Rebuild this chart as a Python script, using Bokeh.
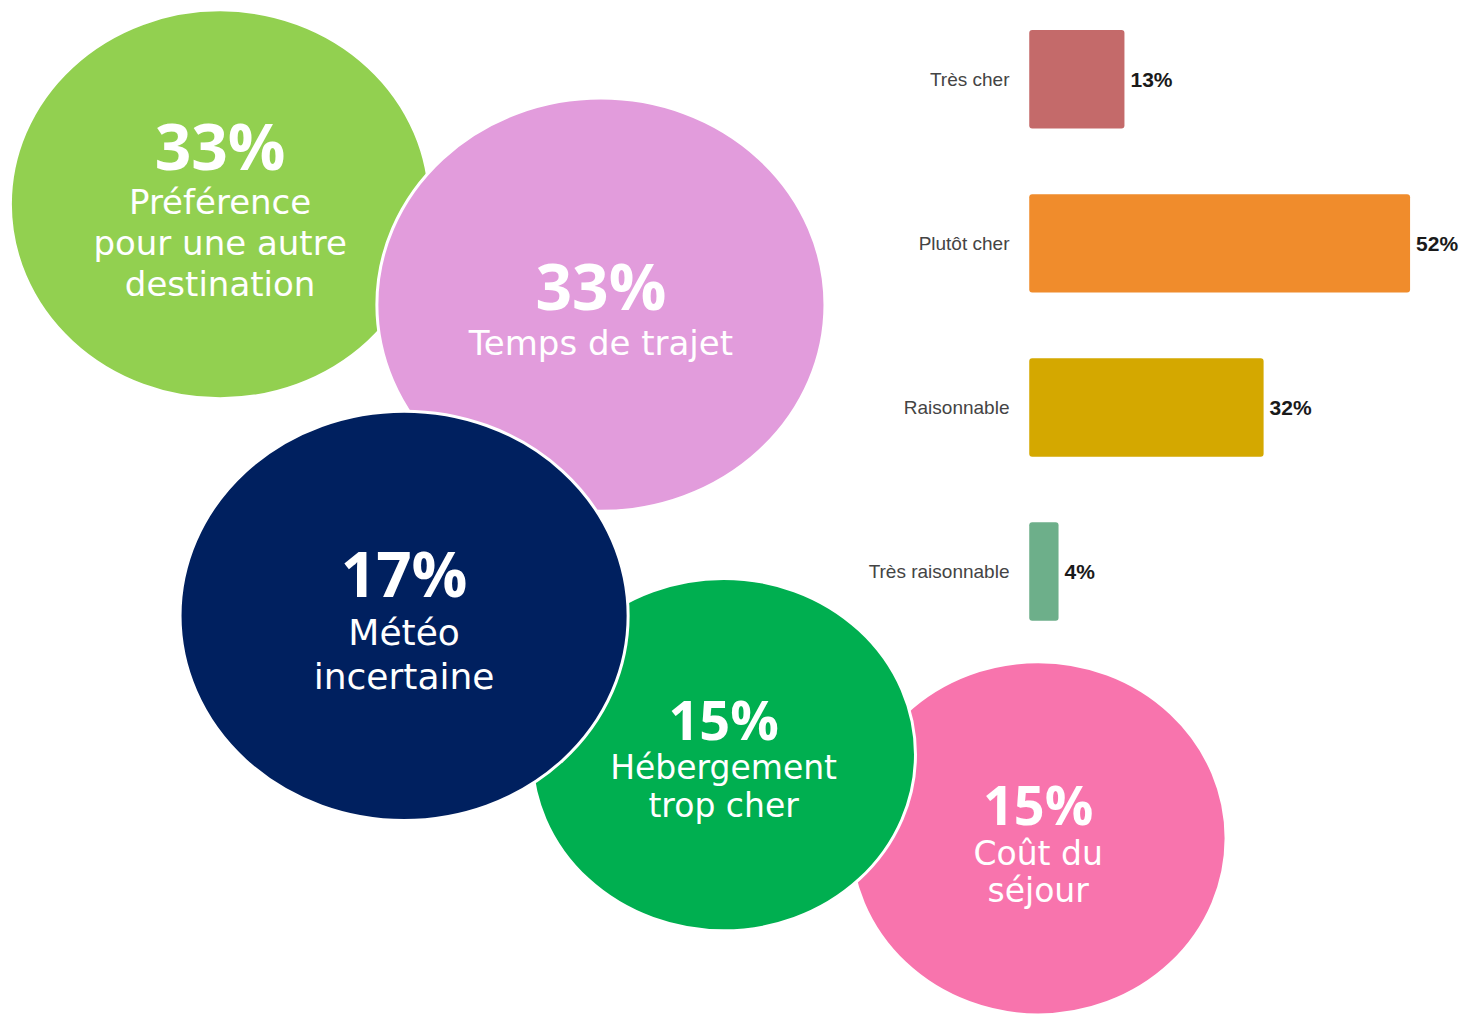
from bokeh.plotting import figure
from bokeh.models import Range1d
from bokeh.core.properties import value
from bokeh.embed import file_html
from bokeh.resources import INLINE

# ---- data ----
bubble_pct = ["33%", "33%", "17%", "15%", "15%"]
bubble_labels = [
    ["Préférence", "pour une autre", "destination"],
    ["Temps de trajet"],
    ["Météo", "incertaine"],
    ["Hébergement", "trop cher"],
    ["Coût du", "séjour"],
]
bubble_colors = ["#92D050", "#E29CDC", "#00205F", "#00AF50", "#F874AD"]

bar_categories = ["Très cher", "Plutôt cher", "Raisonnable", "Très raisonnable"]
bar_values = [13, 52, 32, 4]
bar_colors = ["#C46A6A", "#F08C2C", "#D4A800", "#6DAF8A"]

# ---- layout (reference-pixel positions) ----
bx = [222, 607, 408, 731, 1049]
by = [207, 309, 625, 766, 851]
bw = [424, 453, 453, 388, 380]
bh = [395, 420, 416, 358, 359]
pct_y = [147, 290, 582, 730, 816]
pct_size = ["64px", "64px", "62px", "54px", "54px"]
lab_y0 = [205, 348, 642, 779, 866]
lab_step = [41.5, 0, 45, 39, 38]
lab_size = ["34px", "34px", "36px", "33px", "33px"]
draw_order = [0, 1, 4, 3, 2]

RW, RH = 1478, 1031   # reference canvas
W, H = 1462, 1015     # figure size
p = figure(width=W, height=H, output_backend="svg", toolbar_location=None,
           x_range=Range1d(0, RW), y_range=Range1d(RH, 0),
           min_border=0, outline_line_color=None)
p.axis.visible = False
p.grid.visible = False
p.background_fill_color = "white"
p.border_fill_color = "white"

# bar ranges: 0% at ref px 1040, 52% at ref px 1425 ; rows every 166.7px starting at 80
ppu = (1425 - 1040) / 52.0
xs = -1040 / ppu
p.extra_x_ranges = {"pct": Range1d(xs, xs + RW / ppu)}
rstep = 166.7
ys_top = -80 / rstep
p.extra_y_ranges = {"row": Range1d(ys_top + RH / rstep, ys_top)}

font_body = value("DejaVu Sans")
font_pct = value("Open Sans")
for i in draw_order:
    p.ellipse(x=[bx[i]], y=[by[i]], width=[bw[i]], height=[bh[i]],
              fill_color=bubble_colors[i], line_color="white", line_width=3)
for i in range(5):
    p.text(x=[bx[i]], y=[pct_y[i]], text=[bubble_pct[i]], text_color="white",
           text_font=font_pct, text_font_style="bold", text_font_size=pct_size[i],
           text_align="center", text_baseline="middle")
    for k, line in enumerate(bubble_labels[i]):
        p.text(x=[bx[i]], y=[lab_y0[i] + k * lab_step[i]], text=[line],
               text_color="white", text_font=font_body, text_font_size=lab_size[i],
               text_align="center", text_baseline="middle")

rows = list(range(len(bar_categories)))
p.hbar(y=rows, left=0, right=bar_values, height=0.6, fill_color=bar_colors,
       line_color=None, border_radius=3, x_range_name="pct", y_range_name="row")
p.text(x=[1020] * len(rows), y=rows, text=bar_categories, y_range_name="row",
       text_font=value("Liberation Sans"), text_font_size="19px", text_color="#444444",
       text_align="right", text_baseline="middle")
p.text(x=bar_values, y=rows, text=[f"{v}%" for v in bar_values],
       x_range_name="pct", y_range_name="row", x_offset=6,
       text_font=value("Liberation Sans"), text_font_style="bold", text_font_size="21px",
       text_color="#1a1a1a", text_align="left", text_baseline="middle")

open("out.html", "w").write(file_html(p, INLINE))
